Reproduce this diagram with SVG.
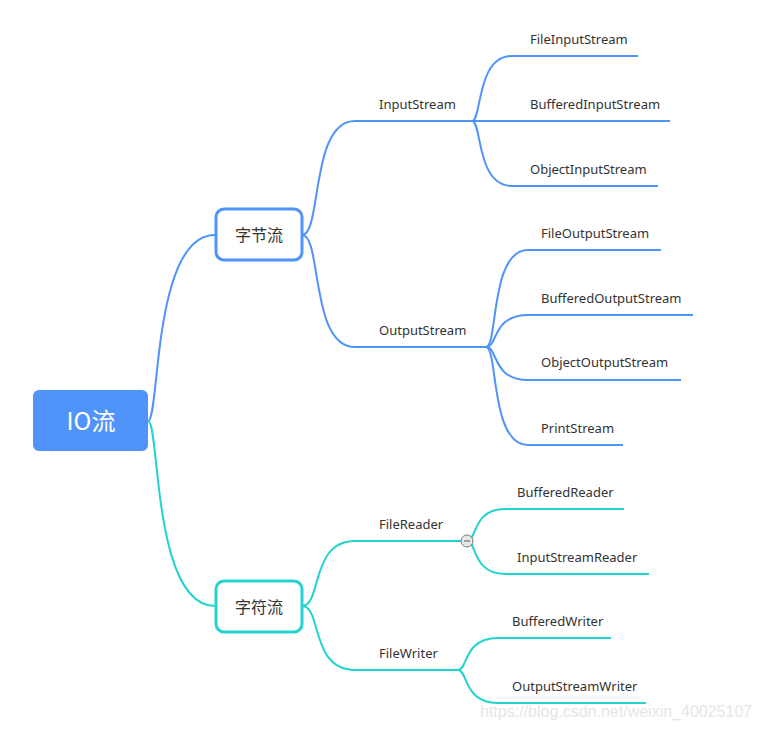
<svg xmlns="http://www.w3.org/2000/svg" width="761" height="729" viewBox="0 0 761 729">
<style>
.b{fill:none;stroke:#4f93fb;stroke-width:2}
.t{fill:none;stroke:#22d3d0;stroke-width:2}
.lbl{font-family:"Noto Sans","Open Sans",sans-serif;font-size:13px;fill:#333}
.topic{font-family:"Noto Sans CJK SC","Noto Sans",sans-serif;font-size:16px;fill:#333;text-anchor:middle}
</style>
<rect width="761" height="729" fill="#fff"/>
<g id="connectors">
<path class="b" d="M148,421 C160,421 152,235 215,235"/>
<path class="t" d="M148,421 C160,421 152,606 215,606"/>
<path class="b" d="M302,235 C322,235 310,121 355,121 L472,121"/>
<path class="b" d="M302,235 C322,235 310,347 355,347 L486,347"/>
<path class="b" d="M472,121 C482,121 476,56 512,56 L638,56"/>
<path class="b" d="M472,121 L670,121"/>
<path class="b" d="M472,121 C482,121 476,186 512,186 L658,186"/>
<path class="b" d="M486,347 C498,347 490,250 528,250 L661,250"/>
<path class="b" d="M486,347 C498,347 492,315 528,315 L693,315"/>
<path class="b" d="M486,347 C498,347 492,380 528,380 L681,380"/>
<path class="b" d="M486,347 C498,347 490,445 528,445 L623,445"/>
<path class="t" d="M302,606 C322,606 310,541 355,541 L467,541"/>
<path class="t" d="M302,606 C322,606 310,670 355,670 L458,670"/>
<path class="t" d="M467,541 C477,541 472,509 505,509 L624,509"/>
<path class="t" d="M467,541 C477,541 472,574 505,574 L649,574"/>
<path class="t" d="M458,670 C468,670 463,638 498,638 L611,638"/>
<path class="t" d="M458,670 C468,670 463,703 498,703 L646,703"/>
</g>
<g id="root">
<rect x="33" y="390" width="115" height="61" rx="6" fill="#4f93fb"/>
<text x="91" y="430" font-family="Noto Sans CJK SC,Noto Sans,sans-serif" font-size="24" fill="#fff" text-anchor="middle">IO流</text>
</g>
<g id="bytes">
<rect x="216" y="209" width="86" height="51" rx="8" fill="#fff" stroke="#4f93fb" stroke-width="3"/>
<text class="topic" x="259" y="241">字节流</text>
</g>
<g id="chars">
<rect x="216" y="581" width="86" height="51" rx="8" fill="#fff" stroke="#22d3d0" stroke-width="3"/>
<text class="topic" x="259" y="613">字符流</text>
</g>
<g id="InputStream"><text class="lbl" x="379" y="109">InputStream</text></g>
<g id="OutputStream"><text class="lbl" x="379" y="335">OutputStream</text></g>
<g id="FileInputStream"><text class="lbl" x="530" y="44">FileInputStream</text></g>
<g id="BufferedInputStream"><text class="lbl" x="530" y="109">BufferedInputStream</text></g>
<g id="ObjectInputStream"><text class="lbl" x="530" y="174">ObjectInputStream</text></g>
<g id="FileOutputStream"><text class="lbl" x="541" y="238">FileOutputStream</text></g>
<g id="BufferedOutputStream"><text class="lbl" x="541" y="303">BufferedOutputStream</text></g>
<g id="ObjectOutputStream"><text class="lbl" x="541" y="367">ObjectOutputStream</text></g>
<g id="PrintStream"><text class="lbl" x="541" y="433">PrintStream</text></g>
<g id="FileReader"><text class="lbl" x="379" y="529">FileReader</text></g>
<g id="FileWriter"><text class="lbl" x="379" y="658">FileWriter</text></g>
<g id="BufferedReader"><text class="lbl" x="517" y="497">BufferedReader</text></g>
<g id="InputStreamReader"><text class="lbl" x="517" y="562">InputStreamReader</text></g>
<g id="BufferedWriter"><text class="lbl" x="512" y="626">BufferedWriter</text></g>
<g id="OutputStreamWriter"><text class="lbl" x="512" y="691">OutputStreamWriter</text></g>
<g id="collapse">
<circle cx="467" cy="541" r="6" fill="#e8e8e8" stroke="#777" stroke-width="1"/>
<line x1="464" y1="541" x2="470" y2="541" stroke="#555" stroke-width="1"/>
</g>
<text x="480" y="717" font-family="Liberation Sans,Arial,sans-serif" font-size="16" fill="#e6e6e6">https://blog.csdn.net/weixin_40025107</text>
</svg>
